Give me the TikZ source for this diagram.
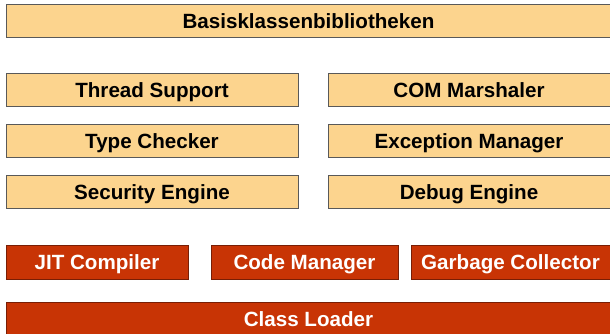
\documentclass[tikz,border=0pt]{standalone}
\usepackage{fontspec}
\setmainfont{Liberation Sans}
\begin{document}
\begin{tikzpicture}[x=1pt,y=-1pt,
  basebox/.style={line width=0.9pt, font=\bfseries\fontsize{20.6}{22}\selectfont, inner sep=0pt, text height=15pt, text depth=0pt},
  lightbox/.style={basebox, draw=black!65, fill={rgb,255:red,252;green,212;blue,142}, text=black, minimum height=33pt},
  redbox/.style={basebox, draw={rgb,255:red,120;green,30;blue,5}, fill={rgb,255:red,200;green,52;blue,5}, text=white, minimum height=34pt}]
\useasboundingbox (0,0) rectangle (610,333);
\node[lightbox, minimum width=604pt] (basis) at (308.5,21) {Basisklassenbibliotheken};
\node[lightbox, minimum width=292pt] (thread) at (152,89.5) {Thread Support};
\node[lightbox, minimum width=282pt] (com) at (469,89.5) {COM Marshaler};
\node[lightbox, minimum width=292pt] (type) at (152,140.5) {Type Checker};
\node[lightbox, minimum width=282pt] (exc) at (469,140.5) {Exception Manager};
\node[lightbox, minimum width=292pt] (sec) at (152,191.5) {Security Engine};
\node[lightbox, minimum width=282pt] (dbg) at (469,191.5) {Debug Engine};
\node[redbox, minimum width=182pt] (jit) at (97,262) {JIT Compiler};
\node[redbox, minimum width=187pt] (code) at (304.5,262) {Code Manager};
\node[redbox, minimum width=199pt] (gc) at (510.5,262) {Garbage Collector};
\node[redbox, minimum width=604pt, minimum height=34pt] (cl) at (308.5,319) {Class Loader};
\end{tikzpicture}
\end{document}
